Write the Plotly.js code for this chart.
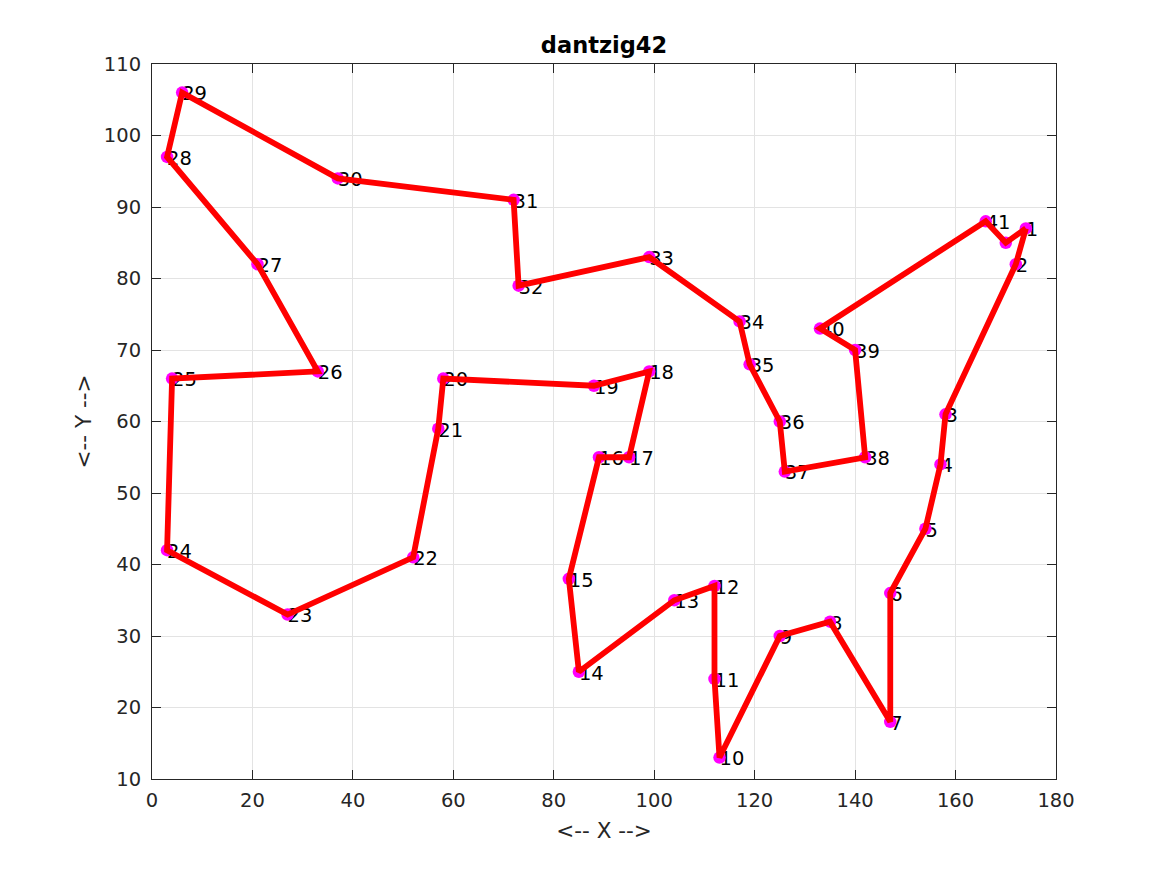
<!DOCTYPE html>
<html>
<head>
<meta charset="utf-8">
<script src="https://cdn.plot.ly/plotly-3.0.1.min.js"></script>
<style>html,body{margin:0;padding:0;background:#fff;}#chart{width:1167px;height:875px;}</style>
</head>
<body>
<div id="chart"></div>
<script>
const cityX = [174,172,158,157,154,147,147,135,125,113,112,112,104,85,83,89,95,99,88,58,57,52,27,3,4,33,21,3,6,37,72,73,99,117,119,125,126,142,140,133,166,170];
const cityY = [87,82,61,54,45,36,18,32,30,13,24,37,35,25,38,55,55,67,65,66,59,41,33,42,66,67,82,97,106,94,91,79,83,74,68,60,53,55,70,73,88,85];
const cityLabels = ["1","2","3","4","5","6","7","8","9","10","11","12","13","14","15","16","17","18","19","20","21","22","23","24","25","26","27","28","29","30","31","32","33","34","35","36","37","38","39","40","41",""];
const tourOrder = [1,2,3,4,5,6,7,8,9,10,11,12,13,14,15,16,17,18,19,20,21,22,23,24,25,26,27,28,29,30,31,32,33,34,35,36,37,38,39,40,41,42,1];

const tourX = tourOrder.map(i => cityX[i-1]);
const tourY = tourOrder.map(i => cityY[i-1]);

const font = "DejaVu Sans, Arial, sans-serif";

const traces = [
  {x: cityX, y: cityY, mode: "text", text: cityLabels, textposition: "middle right",
   textfont: {family: font, size: 19.5, color: "#000"}, hoverinfo: "skip", cliponaxis: false},
  {x: cityX, y: cityY, mode: "markers", marker: {color: "#ff00ff", size: 12.5}, hoverinfo: "skip"},
  {x: tourX, y: tourY, mode: "lines", line: {color: "#ff0000", width: 5.8}, hoverinfo: "skip"}
];

const axisCommon = {
  showgrid: true, gridcolor: "#e3e3e3", gridwidth: 1,
  zeroline: false, showline: true, linecolor: "#262626", linewidth: 1,
  mirror: "ticks", ticks: "inside", ticklen: 9, tickcolor: "#262626",
  tickfont: {family: font, size: 19.5, color: "#262626"}
};

const layout = {
  width: 1167, height: 875,
  paper_bgcolor: "#fff", plot_bgcolor: "#fff",
  showlegend: false,
  margin: {l: 152, r: 111, t: 64, b: 96},
  title: {text: "<b>dantzig42</b>", font: {family: font, size: 22.5, color: "#000"}, xref: "paper", x: 0.5, xanchor: "center", y: 0.948, yanchor: "middle"},
  xaxis: Object.assign({}, axisCommon, {range: [0, 180], tickvals: [0,20,40,60,80,100,120,140,160,180],
    ticklabelstandoff: 4,
    title: {text: "<-- X -->", font: {family: font, size: 21.5, color: "#262626"}, standoff: 11}}),
  yaxis: Object.assign({}, axisCommon, {range: [10, 110], tickvals: [10,20,30,40,50,60,70,80,90,100,110],
    ticklabelstandoff: 6,
    title: {text: "<-- Y -->", font: {family: font, size: 21.5, color: "#262626"}, standoff: 6}})
};

Plotly.newPlot("chart", traces, layout, {displayModeBar: false, staticPlot: true}).then(function () {
  document.querySelectorAll("#chart .textpoint text").forEach(function (t) {
    t.setAttribute("transform", "translate(0,3)");
  });
});
</script>
</body>
</html>
